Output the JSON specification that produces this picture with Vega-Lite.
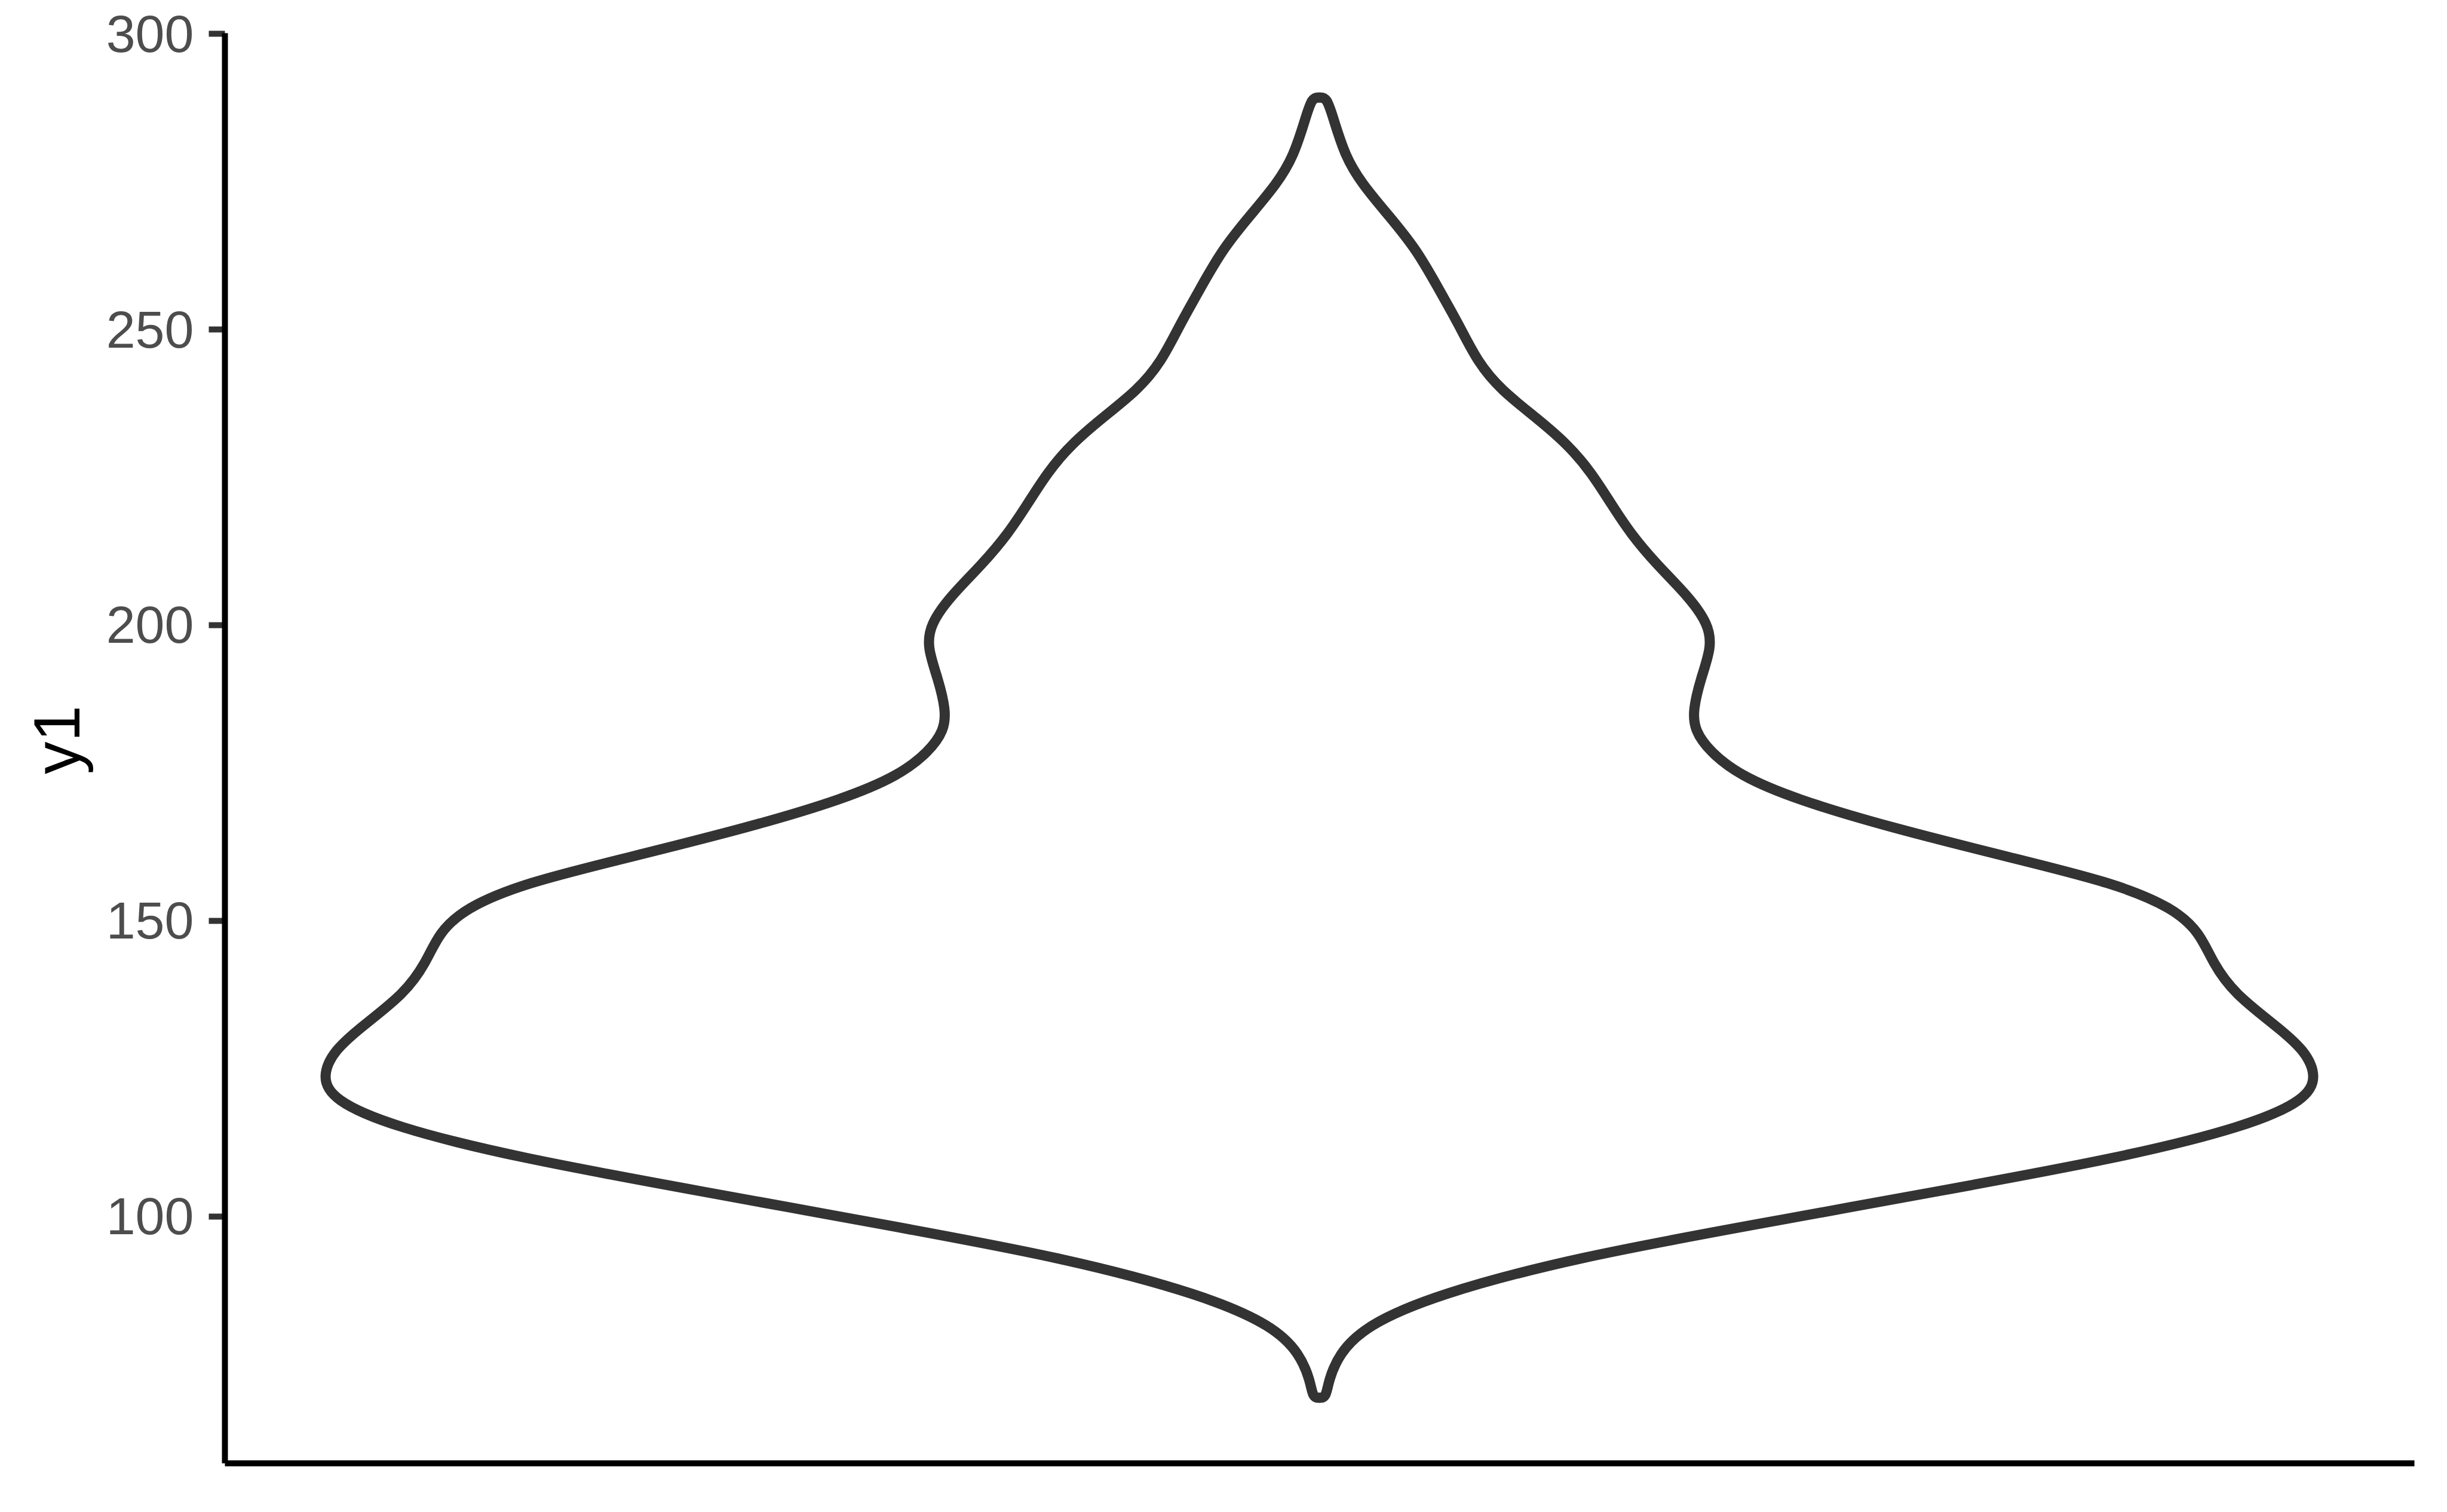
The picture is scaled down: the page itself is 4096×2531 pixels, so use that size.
{
  "$schema": "https://vega.github.io/schema/vega-lite/v6.json",
  "autosize": {"type": "none"},
  "padding": {"left": 376, "top": 55, "right": 55, "bottom": 82},
  "width": 3665,
  "height": 2394,
  "background": "white",
  "data": {
    "values": [
      {"i": 1, "y1": 289.19, "density": 0},
      {"i": 2, "y1": 289.19, "density": 0.0068},
      {"i": 3, "y1": 285.86, "density": 0.0124},
      {"i": 4, "y1": 279.27, "density": 0.0234},
      {"i": 5, "y1": 274.52, "density": 0.0391},
      {"i": 6, "y1": 269.24, "density": 0.0633},
      {"i": 7, "y1": 263.44, "density": 0.0889},
      {"i": 8, "y1": 256.84, "density": 0.1089},
      {"i": 9, "y1": 250.78, "density": 0.1274},
      {"i": 10, "y1": 244.44, "density": 0.1445},
      {"i": 11, "y1": 239.70, "density": 0.1659},
      {"i": 12, "y1": 234.95, "density": 0.1987},
      {"i": 13, "y1": 230.46, "density": 0.2272},
      {"i": 14, "y1": 225.71, "density": 0.2486},
      {"i": 15, "y1": 220.70, "density": 0.2657},
      {"i": 16, "y1": 215.42, "density": 0.2842},
      {"i": 17, "y1": 210.15, "density": 0.3084},
      {"i": 18, "y1": 204.87, "density": 0.3369},
      {"i": 19, "y1": 200.12, "density": 0.3555},
      {"i": 20, "y1": 196.17, "density": 0.3583},
      {"i": 21, "y1": 190.89, "density": 0.3483},
      {"i": 22, "y1": 185.61, "density": 0.3412},
      {"i": 23, "y1": 182.18, "density": 0.3426},
      {"i": 24, "y1": 178.49, "density": 0.3569},
      {"i": 25, "y1": 174.53, "density": 0.3840},
      {"i": 26, "y1": 170.58, "density": 0.4339},
      {"i": 27, "y1": 165.83, "density": 0.5194},
      {"i": 28, "y1": 160.55, "density": 0.6334},
      {"i": 29, "y1": 156.33, "density": 0.7261},
      {"i": 30, "y1": 152.11, "density": 0.7802},
      {"i": 31, "y1": 147.89, "density": 0.8044},
      {"i": 32, "y1": 142.88, "density": 0.8159},
      {"i": 33, "y1": 137.60, "density": 0.8358},
      {"i": 34, "y1": 132.32, "density": 0.8729},
      {"i": 35, "y1": 128.10, "density": 0.9000},
      {"i": 36, "y1": 123.62, "density": 0.9113},
      {"i": 37, "y1": 119.66, "density": 0.9014},
      {"i": 38, "y1": 115.18, "density": 0.8472},
      {"i": 39, "y1": 109.90, "density": 0.7332},
      {"i": 40, "y1": 104.10, "density": 0.5621},
      {"i": 41, "y1": 98.82, "density": 0.4054},
      {"i": 42, "y1": 93.02, "density": 0.2343},
      {"i": 43, "y1": 86.69, "density": 0.1060},
      {"i": 44, "y1": 81.41, "density": 0.0419},
      {"i": 45, "y1": 76.66, "density": 0.0177},
      {"i": 46, "y1": 72.18, "density": 0.0084},
      {"i": 47, "y1": 69.27, "density": 0.0060},
      {"i": 48, "y1": 69.27, "density": 0}
    ]
  },
  "layer": [
    {
      "mark": {"type": "line", "color": "#333333", "strokeWidth": 17, "strokeJoin": "round", "strokeCap": "round", "interpolate": "basis"},
      "encoding": {
        "x": {"field": "density", "type": "quantitative", "scale": {"domain": [-1, 1], "nice": false, "zero": false},
              "axis": {"title": null, "labels": false, "ticks": false, "grid": false, "domain": true}},
        "y": {"field": "y1", "type": "quantitative"},
        "order": {"field": "i", "type": "quantitative"}
      }
    },
    {
      "mark": {"type": "line", "color": "#333333", "strokeWidth": 17, "strokeJoin": "round", "strokeCap": "round", "interpolate": "basis"},
      "encoding": {
        "x": {"field": "density", "type": "quantitative", "scale": {"domain": [-1, 1], "nice": false, "zero": false, "reverse": true}, "axis": null},
        "y": {"field": "y1", "type": "quantitative",
              "scale": {"domain": [58.24, 300.12], "nice": false, "zero": false},
              "axis": {"values": [100, 150, 200, 250, 300], "title": "y1", "titleX": -244, "titleY": 1183,
                       "titleBaseline": "alphabetic", "titleAngle": -90, "titleAlign": "center",
                       "labelFlush": false, "labelOverlap": false, "labelOffset": 4}},
        "order": {"field": "i", "type": "quantitative"}
      }
    }
  ],
  "resolve": {"scale": {"x": "independent"}},
  "config": {
    "view": {"stroke": null},
    "axis": {
      "domainColor": "black", "domainWidth": 10, "domainCap": "butt",
      "tickColor": "#333333", "tickWidth": 10, "tickSize": 27, "tickCap": "butt",
      "labelFont": "Liberation Sans", "labelFontSize": 88, "labelColor": "#4D4D4D", "labelPadding": 25,
      "grid": false,
      "titleFont": "Liberation Sans", "titleFontSize": 109, "titleColor": "black", "titleFontWeight": "normal"
    }
  }
}
